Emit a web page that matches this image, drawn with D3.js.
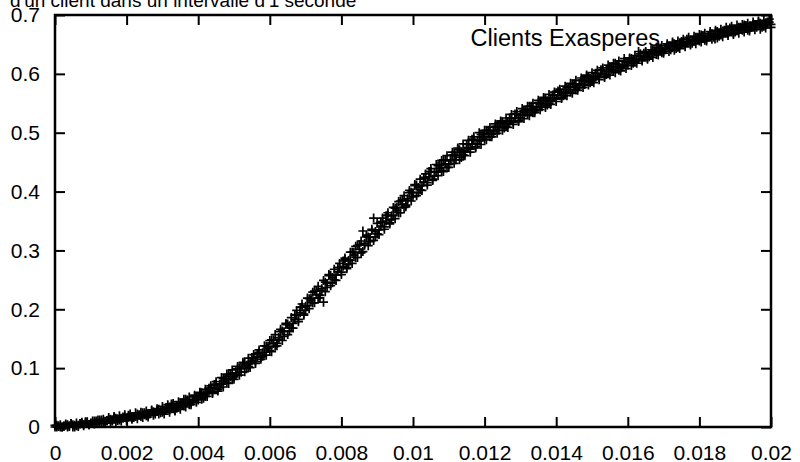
<!DOCTYPE html>
<html>
<head>
<meta charset="utf-8">
<script src="https://cdn.jsdelivr.net/npm/d3@7"></script>
<style>
html,body{margin:0;padding:0;background:#fff;}
svg{display:block;}
</style>
</head>
<body>
<svg id="chart" width="800" height="462"></svg>
<script>
// ---- data ----
const titleText = "d'un client dans un intervalle d'1 seconde";
const seriesName = "Clients Exasperes";
const xTicks = [0, 0.002, 0.004, 0.006, 0.008, 0.01, 0.012, 0.014, 0.016, 0.018, 0.02];
const xTickLabels = ["0", "0.002", "0.004", "0.006", "0.008", "0.01", "0.012", "0.014", "0.016", "0.018", "0.02"];
const yTicks = [0, 0.1, 0.2, 0.3, 0.4, 0.5, 0.6, 0.7];
const yTickLabels = ["0", "0.1", "0.2", "0.3", "0.4", "0.5", "0.6", "0.7"];

// sample positions (grid A) and half-step positions (grid B)
const xValuesA = [
 0.0000,0.0001,0.0002,0.0003,0.0004,0.0005,0.0006,0.0007,0.0008,0.0009,
 0.0010,0.0011,0.0012,0.0013,0.0014,0.0015,0.0016,0.0017,0.0018,0.0019,
 0.0020,0.0021,0.0022,0.0023,0.0024,0.0025,0.0026,0.0027,0.0028,0.0029,
 0.0030,0.0031,0.0032,0.0033,0.0034,0.0035,0.0036,0.0037,0.0038,0.0039,
 0.0040,0.0041,0.0042,0.0043,0.0044,0.0045,0.0046,0.0047,0.0048,0.0049,
 0.0050,0.0051,0.0052,0.0053,0.0054,0.0055,0.0056,0.0057,0.0058,0.0059,
 0.0060,0.0061,0.0062,0.0063,0.0064,0.0065,0.0066,0.0067,0.0068,0.0069,
 0.0070,0.0071,0.0072,0.0073,0.0074,0.0075,0.0076,0.0077,0.0078,0.0079,
 0.0080,0.0081,0.0082,0.0083,0.0084,0.0085,0.0086,0.0087,0.0088,0.0089,
 0.0090,0.0091,0.0092,0.0093,0.0094,0.0095,0.0096,0.0097,0.0098,0.0099,
 0.0100,0.0101,0.0102,0.0103,0.0104,0.0105,0.0106,0.0107,0.0108,0.0109,
 0.0110,0.0111,0.0112,0.0113,0.0114,0.0115,0.0116,0.0117,0.0118,0.0119,
 0.0120,0.0121,0.0122,0.0123,0.0124,0.0125,0.0126,0.0127,0.0128,0.0129,
 0.0130,0.0131,0.0132,0.0133,0.0134,0.0135,0.0136,0.0137,0.0138,0.0139,
 0.0140,0.0141,0.0142,0.0143,0.0144,0.0145,0.0146,0.0147,0.0148,0.0149,
 0.0150,0.0151,0.0152,0.0153,0.0154,0.0155,0.0156,0.0157,0.0158,0.0159,
 0.0160,0.0161,0.0162,0.0163,0.0164,0.0165,0.0166,0.0167,0.0168,0.0169,
 0.0170,0.0171,0.0172,0.0173,0.0174,0.0175,0.0176,0.0177,0.0178,0.0179,
 0.0180,0.0181,0.0182,0.0183,0.0184,0.0185,0.0186,0.0187,0.0188,0.0189,
 0.0190,0.0191,0.0192,0.0193,0.0194,0.0195,0.0196,0.0197,0.0198,0.0199,
 0.0200
];
const xValuesB = [
 0.00005,0.00015,0.00025,0.00035,0.00045,0.00055,0.00065,0.00075,0.00085,0.00095,
 0.00105,0.00115,0.00125,0.00135,0.00145,0.00155,0.00165,0.00175,0.00185,0.00195,
 0.00205,0.00215,0.00225,0.00235,0.00245,0.00255,0.00265,0.00275,0.00285,0.00295,
 0.00305,0.00315,0.00325,0.00335,0.00345,0.00355,0.00365,0.00375,0.00385,0.00395,
 0.00405,0.00415,0.00425,0.00435,0.00445,0.00455,0.00465,0.00475,0.00485,0.00495,
 0.00505,0.00515,0.00525,0.00535,0.00545,0.00555,0.00565,0.00575,0.00585,0.00595,
 0.00605,0.00615,0.00625,0.00635,0.00645,0.00655,0.00665,0.00675,0.00685,0.00695,
 0.00705,0.00715,0.00725,0.00735,0.00745,0.00755,0.00765,0.00775,0.00785,0.00795,
 0.00805,0.00815,0.00825,0.00835,0.00845,0.00855,0.00865,0.00875,0.00885,0.00895,
 0.00905,0.00915,0.00925,0.00935,0.00945,0.00955,0.00965,0.00975,0.00985,0.00995,
 0.01005,0.01015,0.01025,0.01035,0.01045,0.01055,0.01065,0.01075,0.01085,0.01095,
 0.01105,0.01115,0.01125,0.01135,0.01145,0.01155,0.01165,0.01175,0.01185,0.01195,
 0.01205,0.01215,0.01225,0.01235,0.01245,0.01255,0.01265,0.01275,0.01285,0.01295,
 0.01305,0.01315,0.01325,0.01335,0.01345,0.01355,0.01365,0.01375,0.01385,0.01395,
 0.01405,0.01415,0.01425,0.01435,0.01445,0.01455,0.01465,0.01475,0.01485,0.01495,
 0.01505,0.01515,0.01525,0.01535,0.01545,0.01555,0.01565,0.01575,0.01585,0.01595,
 0.01605,0.01615,0.01625,0.01635,0.01645,0.01655,0.01665,0.01675,0.01685,0.01695,
 0.01705,0.01715,0.01725,0.01735,0.01745,0.01755,0.01765,0.01775,0.01785,0.01795,
 0.01805,0.01815,0.01825,0.01835,0.01845,0.01855,0.01865,0.01875,0.01885,0.01895,
 0.01905,0.01915,0.01925,0.01935,0.01945,0.01955,0.01965,0.01975,0.01985,0.01995
];

// run 1 (on grid A)
const yValuesA = [
 0.000,0.002,0.000,0.003,0.001,0.004,0.002,0.006,0.004,0.008,
 0.006,0.010,0.007,0.012,0.009,0.013,0.010,0.015,0.012,0.017,
 0.014,0.019,0.016,0.022,0.018,0.024,0.020,0.027,0.022,0.030,
 0.025,0.033,0.029,0.037,0.032,0.041,0.036,0.046,0.041,0.052,
 0.046,0.058,0.052,0.066,0.059,0.073,0.067,0.082,0.076,0.091,
 0.085,0.099,0.093,0.109,0.102,0.118,0.111,0.127,0.120,0.137,
 0.130,0.148,0.142,0.162,0.154,0.175,0.168,0.190,0.183,0.204,
 0.198,0.218,0.211,0.232,0.224,0.212,0.237,0.258,0.250,0.271,
 0.263,0.284,0.276,0.297,0.288,0.310,0.333,0.323,0.315,0.355,
 0.328,0.348,0.340,0.360,0.352,0.372,0.364,0.386,0.377,0.398,
 0.391,0.411,0.403,0.423,0.415,0.434,0.426,0.444,0.436,0.453,
 0.446,0.462,0.454,0.471,0.463,0.480,0.472,0.488,0.481,0.497,
 0.489,0.504,0.497,0.511,0.504,0.518,0.511,0.525,0.518,0.532,
 0.525,0.538,0.531,0.545,0.537,0.551,0.544,0.558,0.550,0.564,
 0.557,0.570,0.563,0.577,0.569,0.583,0.576,0.589,0.582,0.595,
 0.588,0.601,0.594,0.606,0.599,0.612,0.605,0.616,0.610,0.621,
 0.615,0.626,0.620,0.638,0.624,0.636,0.629,0.640,0.633,0.644,
 0.638,0.648,0.641,0.651,0.645,0.655,0.649,0.658,0.652,0.662,
 0.656,0.665,0.659,0.668,0.662,0.672,0.666,0.674,0.668,0.677,
 0.671,0.679,0.674,0.682,0.676,0.684,0.679,0.686,0.681,0.688,
 0.684
];
// run 2 (on grid B)
const yValuesB = [
 0.003,0.000,0.001,0.004,0.006,0.000,0.003,0.006,0.009,0.004,
 0.007,0.010,0.012,0.007,0.010,0.013,0.016,0.011,0.014,0.017,
 0.020,0.015,0.018,0.021,0.024,0.019,0.022,0.026,0.029,0.024,
 0.027,0.034,0.039,0.028,0.034,0.041,0.047,0.038,0.044,0.052,
 0.058,0.049,0.057,0.066,0.072,0.064,0.073,0.082,0.089,0.082,
 0.090,0.100,0.107,0.099,0.108,0.117,0.125,0.118,0.127,0.137,
 0.148,0.137,0.149,0.163,0.174,0.163,0.176,0.191,0.203,0.192,
 0.206,0.219,0.231,0.219,0.232,0.246,0.257,0.245,0.258,0.271,
 0.282,0.271,0.283,0.297,0.308,0.296,0.309,0.323,0.334,0.323,
 0.335,0.349,0.359,0.347,0.359,0.373,0.384,0.373,0.385,0.399,
 0.410,0.398,0.410,0.424,0.434,0.421,0.433,0.445,0.454,0.441,
 0.452,0.463,0.472,0.458,0.469,0.481,0.489,0.476,0.486,0.497,
 0.504,0.493,0.502,0.511,0.518,0.508,0.516,0.525,0.532,0.521,
 0.530,0.538,0.545,0.534,0.542,0.551,0.558,0.547,0.555,0.564,
 0.571,0.560,0.568,0.577,0.583,0.573,0.580,0.589,0.596,0.585,
 0.592,0.601,0.607,0.596,0.604,0.612,0.618,0.606,0.613,0.621,
 0.625,0.618,0.624,0.630,0.635,0.627,0.633,0.639,0.644,0.636,
 0.641,0.647,0.652,0.643,0.649,0.654,0.659,0.651,0.656,0.662,
 0.666,0.657,0.663,0.668,0.672,0.664,0.669,0.674,0.678,0.669,
 0.674,0.679,0.683,0.674,0.679,0.684,0.688,0.679,0.683,0.688
];
// run 3 (on grid A)
const yValuesC = [
 0.003,0.001,0.000,0.005,0.002,0.000,0.007,0.005,0.002,0.009,
 0.007,0.005,0.012,0.009,0.007,0.016,0.012,0.008,0.019,0.015,
 0.011,0.022,0.018,0.014,0.025,0.021,0.017,0.029,0.025,0.022,
 0.035,0.030,0.025,0.040,0.035,0.030,0.047,0.042,0.038,0.054,
 0.050,0.047,0.064,0.061,0.057,0.077,0.072,0.068,0.090,0.086,
 0.081,0.103,0.099,0.094,0.117,0.112,0.108,0.131,0.126,0.122,
 0.147,0.142,0.138,0.166,0.162,0.157,0.186,0.183,0.179,0.209,
 0.205,0.201,0.229,0.225,0.220,0.249,0.244,0.240,0.268,0.264,
 0.259,0.287,0.283,0.278,0.307,0.302,0.298,0.326,0.322,0.317,
 0.346,0.341,0.336,0.364,0.359,0.354,0.383,0.378,0.374,0.402,
 0.398,0.393,0.421,0.416,0.411,0.439,0.433,0.427,0.453,0.447,
 0.441,0.467,0.461,0.454,0.481,0.474,0.467,0.493,0.487,0.480,
 0.504,0.499,0.493,0.515,0.509,0.504,0.525,0.520,0.514,0.536,
 0.530,0.524,0.545,0.540,0.534,0.555,0.549,0.543,0.565,0.559,
 0.553,0.574,0.568,0.563,0.584,0.578,0.572,0.593,0.587,0.581,
 0.602,0.596,0.590,0.610,0.604,0.598,0.618,0.612,0.605,0.626,
 0.619,0.614,0.631,0.626,0.622,0.638,0.633,0.628,0.645,0.640,
 0.635,0.651,0.646,0.640,0.656,0.651,0.646,0.662,0.656,0.651,
 0.667,0.662,0.656,0.672,0.666,0.661,0.676,0.671,0.665,0.681,
 0.675,0.669,0.684,0.679,0.673,0.688,0.682,0.676,0.691,0.685,
 0.679
];
// run 4 (on grid B)
const yValuesD = [
 0.000,0.004,0.002,0.000,0.006,0.003,0.001,0.008,0.006,0.004,
 0.010,0.008,0.006,0.013,0.011,0.007,0.018,0.014,0.010,0.021,
 0.017,0.013,0.024,0.020,0.016,0.027,0.023,0.020,0.031,0.027,
 0.022,0.038,0.033,0.027,0.043,0.038,0.034,0.051,0.046,0.042,
 0.059,0.055,0.052,0.070,0.066,0.061,0.084,0.079,0.074,0.097,
 0.092,0.088,0.110,0.105,0.101,0.123,0.119,0.115,0.138,0.134,
 0.128,0.157,0.152,0.147,0.176,0.172,0.168,0.198,0.194,0.190,
 0.219,0.215,0.211,0.239,0.235,0.230,0.259,0.254,0.249,0.278,
 0.273,0.269,0.297,0.292,0.288,0.316,0.312,0.308,0.336,0.332,
 0.327,0.355,0.350,0.345,0.373,0.368,0.364,0.393,0.388,0.384,
 0.412,0.407,0.402,0.430,0.425,0.419,0.446,0.440,0.434,0.461,
 0.454,0.448,0.474,0.467,0.461,0.487,0.480,0.474,0.500,0.493,
 0.488,0.509,0.504,0.499,0.520,0.515,0.509,0.531,0.525,0.519,
 0.541,0.535,0.529,0.550,0.544,0.539,0.560,0.554,0.548,0.569,
 0.564,0.558,0.579,0.573,0.567,0.589,0.583,0.577,0.598,0.592,
 0.585,0.606,0.600,0.594,0.615,0.608,0.602,0.622,0.615,0.609,
 0.627,0.623,0.618,0.634,0.630,0.625,0.641,0.637,0.632,0.648,
 0.643,0.638,0.654,0.648,0.643,0.659,0.654,0.649,0.664,0.659,
 0.654,0.669,0.664,0.659,0.674,0.669,0.663,0.679,0.673,0.667,
 0.683,0.677,0.671,0.686,0.680,0.675,0.690,0.684,0.678,0.693
];

// ---- layout ----
const plotLeft = 55, plotRight = 771, plotTop = 15, plotBottom = 427;
const fontFamily = "'Liberation Sans', Arial, Helvetica, sans-serif";

const svg = d3.select("#chart");
svg.append("rect").attr("width", 800).attr("height", 462).attr("fill", "#fff");

const x = d3.scaleLinear().domain([0, 0.02]).range([plotLeft, plotRight]);
const y = d3.scaleLinear().domain([0, 0.7]).range([plotBottom, plotTop]);

const tickLen = 10;

function styleAxis(g, showText) {
  g.select(".domain").remove();
  g.selectAll(".tick line").attr("stroke", "#000").attr("stroke-width", 2);
  if (showText) {
    g.selectAll(".tick text").attr("fill", "#000")
      .style("font-family", fontFamily).style("font-size", "21px");
  } else {
    g.selectAll(".tick text").remove();
  }
  g.attr("font-family", null).attr("font-size", null);
}

svg.append("g")
  .attr("transform", `translate(0,${plotBottom})`)
  .call(d3.axisBottom(x).tickValues(xTicks)
    .tickFormat((d, i) => xTickLabels[i])
    .tickSizeInner(-tickLen).tickSizeOuter(0).tickPadding(18))
  .call(g => styleAxis(g, true));

svg.append("g")
  .attr("transform", `translate(0,${plotTop})`)
  .call(d3.axisTop(x).tickValues(xTicks).tickSizeInner(-tickLen).tickSizeOuter(0))
  .call(g => styleAxis(g, false));

svg.append("g")
  .attr("transform", `translate(${plotLeft},0)`)
  .call(d3.axisLeft(y).tickValues(yTicks)
    .tickFormat((d, i) => yTickLabels[i])
    .tickSizeInner(-tickLen).tickSizeOuter(0).tickPadding(15))
  .call(g => styleAxis(g, true));

svg.append("g")
  .attr("transform", `translate(${plotRight},0)`)
  .call(d3.axisRight(y).tickValues(yTicks).tickSizeInner(-tickLen).tickSizeOuter(0))
  .call(g => styleAxis(g, false));

svg.append("rect")
  .attr("x", plotLeft).attr("y", plotTop)
  .attr("width", plotRight - plotLeft).attr("height", plotBottom - plotTop)
  .attr("fill", "none").attr("stroke", "#000").attr("stroke-width", 2.5);

// title (only its lower part is visible)
svg.append("text")
  .attr("x", 10).attr("y", 7)
  .attr("fill", "#000")
  .style("font-family", fontFamily).style("font-size", "19px")
  .text(titleText);

// legend
svg.append("text")
  .attr("x", 660).attr("y", 46)
  .attr("text-anchor", "end")
  .attr("fill", "#000")
  .style("font-family", fontFamily).style("font-size", "23.5px")
  .text(seriesName);

const plusPath = (cx, cy, r) => `M${cx - r},${cy}H${cx + r}M${cx},${cy - r}V${cy + r}`;

svg.append("path")
  .attr("d", plusPath(715, 39, 4.5))
  .attr("stroke", "#000").attr("stroke-width", 1.7).attr("fill", "none");

const pts = []
  .concat(xValuesA.map((xv, i) => [xv, yValuesA[i]]))
  .concat(xValuesB.map((xv, i) => [xv, yValuesB[i]]))
  .concat(xValuesA.map((xv, i) => [xv, yValuesC[i]]))
  .concat(xValuesB.map((xv, i) => [xv, yValuesD[i]]));

svg.append("g").selectAll("path")
  .data(pts)
  .join("path")
  .attr("d", d => plusPath(x(d[0]), y(d[1]), 4.5))
  .attr("stroke", "#000").attr("stroke-width", 1.7).attr("fill", "none");
</script>
</body>
</html>
